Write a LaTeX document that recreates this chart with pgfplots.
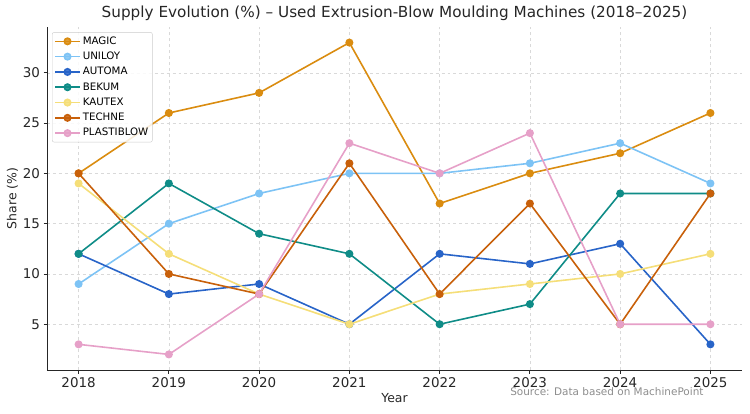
\documentclass[border=0pt]{standalone}
\usepackage{pgfplots}
\pgfplotsset{compat=1.18}
\usepackage{fontspec}
\setmainfont{DejaVu Sans}
\definecolor{cMagic}{RGB}{218,140,16}
\definecolor{cUniloy}{RGB}{125,195,245}
\definecolor{cAutoma}{RGB}{40,100,200}
\definecolor{cBekum}{RGB}{15,140,135}
\definecolor{cKautex}{RGB}{245,222,120}
\definecolor{cTechne}{RGB}{200,96,10}
\definecolor{cPlasti}{RGB}{230,160,200}
\definecolor{txt}{RGB}{38,38,38}
\begin{document}
\begin{tikzpicture}[x=1bp,y=1bp]
\path[use as bounding box] (-47,-43) rectangle (703,370);
\begin{axis}[
  at={(0,0)}, anchor=south west,
  width=695bp, height=343bp, scale only axis,
  xmin=2017.65, xmax=2025.35, ymin=0.45, ymax=34.55,
  xtick={2018,...,2025}, ytick={5,10,...,30},
  x tick label style={/pgf/number format/1000 sep={}},
  /pgf/number format/assume math mode=true,
  tick label style={font=\fontsize{13.5}{13.5}\selectfont, text=txt},
  axis x line*=bottom, axis y line*=left,
  axis line style={line width=1pt, color=txt},
  tick align=outside, major tick length=3.5bp,
  tick style={color=txt, line width=0.8pt},
  grid=major,
  major grid style={dashed, line width=0.5pt, color=black!15},
  xlabel={Year}, ylabel={Share (\%)},
  label style={font=\fontsize{12.5}{12.5}\selectfont, text=txt},
  xlabel style={yshift=1bp},
  ylabel style={yshift=-2bp},
  title={Supply Evolution (\%) -- Used Extrusion-Blow Moulding Machines (2018--2025)},
  title style={font=\fontsize{15.3}{15.3}\selectfont, text=txt, yshift=-3bp},
  every axis plot/.append style={line width=1.6pt, mark=*, mark size=3.2bp},
  legend style={at={(0.0072,0.985)}, anchor=north west, font=\fontsize{10.3}{12}\selectfont,
    draw=black!20, rounded corners=2pt, fill=white, fill opacity=0.85, text opacity=1,
    row sep=1.3bp, inner sep=2bp,
    nodes={inner sep=2bp, text height=7.8bp, text depth=2.2bp}},
  legend cell align=left,
  legend image code/.code={\draw[mark repeat=2,mark phase=2] plot coordinates {(0bp,0bp)(12.5bp,0bp)(25bp,0bp)};},
]
\addplot[color=cMagic] coordinates {(2018,20)(2019,26)(2020,28)(2021,33)(2022,17)(2023,20)(2024,22)(2025,26)};
\addlegendentry{MAGIC}
\addplot[color=cUniloy] coordinates {(2018,9)(2019,15)(2020,18)(2021,20)(2022,20)(2023,21)(2024,23)(2025,19)};
\addlegendentry{UNILOY}
\addplot[color=cAutoma] coordinates {(2018,12)(2019,8)(2020,9)(2021,5)(2022,12)(2023,11)(2024,13)(2025,3)};
\addlegendentry{AUTOMA}
\addplot[color=cBekum] coordinates {(2018,12)(2019,19)(2020,14)(2021,12)(2022,5)(2023,7)(2024,18)(2025,18)};
\addlegendentry{BEKUM}
\addplot[color=cKautex] coordinates {(2018,19)(2019,12)(2020,8)(2021,5)(2022,8)(2023,9)(2024,10)(2025,12)};
\addlegendentry{KAUTEX}
\addplot[color=cTechne] coordinates {(2018,20)(2019,10)(2020,8)(2021,21)(2022,8)(2023,17)(2024,5)(2025,18)};
\addlegendentry{TECHNE}
\addplot[color=cPlasti] coordinates {(2018,3)(2019,2)(2020,8)(2021,23)(2022,20)(2023,24)(2024,5)(2025,5)};
\addlegendentry{PLASTIBLOW}
\end{axis}
\node[anchor=base east, font=\fontsize{10.5}{10.5}\selectfont, text=black!45] at (660,-25) {Source: Data based on MachinePoint};
\end{tikzpicture}
\end{document}
